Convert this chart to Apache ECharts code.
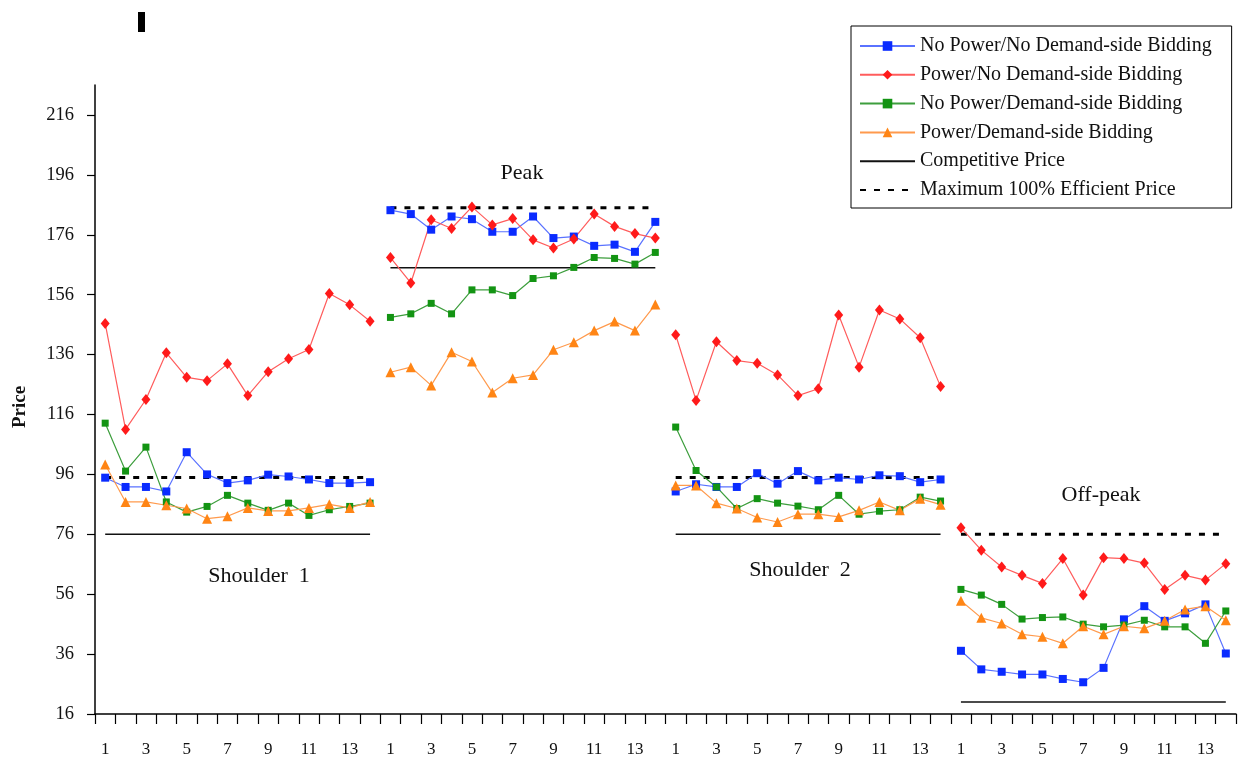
<!DOCTYPE html>
<html><head><meta charset="utf-8">
<script src="https://cdn.jsdelivr.net/npm/echarts@6/dist/echarts.min.js"></script>
<style>html,body{margin:0;padding:0;background:#fff}#c{width:1239px;height:758px}</style>
</head><body><div id="c"></div>
<script>
const periodLabels = ['1','2','3','4','5','6','7','8','9','10','11','12','13','14'];
const segmentNames = ['Shoulder  1','Peak','Shoulder  2','Off-peak'];
const noPowerNoDSB = [
  [94.9,91.8,91.8,90.3,103.4,96,93.1,94,95.9,95.3,94.3,93.1,93.1,93.4],
  [184.2,182.9,177.7,182.1,181.2,177,177,182.1,174.9,175.4,172.3,172.7,170.3,180.3],
  [90.3,92.7,91.8,91.8,96.4,92.9,97.1,94,94.9,94.3,95.7,95.4,93.4,94.3],
  [37.1,30.9,30.1,29.2,29.2,27.7,26.6,31.4,47.6,52,47.1,49.6,52.6,36.2]
];
const powerNoDSB = [
  [146.4,111,121,136.6,128.4,127.3,132.9,122.3,130.3,134.6,137.7,156.4,152.6,147.1],
  [168.4,159.9,181,178.1,185.3,179.3,181.4,174.3,171.6,174.6,182.9,178.8,176.4,174.9],
  [142.6,120.7,140.3,134,133.1,129.2,122.3,124.6,149.2,131.8,150.9,147.9,141.6,125.3],
  [78.2,70.7,65.1,62.3,59.6,67.9,55.7,68.2,67.9,66.4,57.6,62.3,60.7,66.2]
];
const noPowerDSB = [
  [113.1,97.1,105.1,86.8,83.4,85.3,89,86.4,84,86.4,82.3,84.2,85.3,86.4],
  [148.4,149.6,153.1,149.6,157.6,157.6,155.7,161.4,162.3,165.1,168.4,168.1,166.2,170.1],
  [111.8,97.3,91.8,84.6,87.9,86.4,85.4,84.2,89,82.7,83.7,84.2,88.4,87.1],
  [57.6,55.7,52.6,47.7,48.2,48.4,46,45.1,45.7,47.3,45.1,45.1,39.6,50.4]
];
const powerDSB = [
  [99.3,86.8,86.8,85.7,84.6,81.2,82,84.8,83.8,83.8,84.8,86,84.8,86.8],
  [130.1,131.8,125.7,136.8,133.7,123.3,128.1,129.2,137.6,140.1,144,147,144,152.7],
  [92.3,92.3,86.4,84.6,81.6,80.1,82.7,82.7,81.8,84,86.8,84,87.9,85.9],
  [53.8,48.1,46.2,42.6,41.8,39.6,45.3,42.6,45.3,44.6,47.1,50.9,52,47.3]
];
const competitivePrice = [76,165,76,20];
const maxEfficientPrice = [95,185,95,76];
const yTicks = [16,36,56,76,96,116,136,156,176,196,216];

const FONT = 'Liberation Serif';
const nSeg = segmentNames.length, nPer = periodLabels.length;
const categories = [];
for (let s = 0; s < nSeg; s++) periodLabels.forEach(p => categories.push(p));

function segData(seg, values) {
  const d = new Array(nSeg * nPer).fill(null);
  values.forEach((v, i) => { d[seg * nPer + i] = v; });
  return d;
}

const seriesDefs = [
  {name:'No Power/No Demand-side Bidding', data:noPowerNoDSB, line:'#5a72ff', mark:'#0a2bff', symbol:'rect', size:8},
  {name:'Power/No Demand-side Bidding', data:powerNoDSB, line:'#ff5c5c', mark:'#ff1a1a', symbol:'diamond', size:[9,11]},
  {name:'No Power/Demand-side Bidding', data:noPowerDSB, line:'#3d9e3d', mark:'#139413', symbol:'rect', size:7},
  {name:'Power/Demand-side Bidding', data:powerDSB, line:'#ff9a4d', mark:'#ff8515', symbol:'triangle', size:10}
];

const series = [];
for (let s = 0; s < nSeg; s++) {
  series.push({
    name:'Competitive Price', type:'line', symbol:'circle', symbolSize:0, showSymbol:false, z:1,
    data: segData(s, periodLabels.map(() => competitivePrice[s])),
    lineStyle:{color:'#111', width:1.5}, itemStyle:{color:'rgba(0,0,0,0)', borderWidth:0}, silent:true
  });
  series.push({
    name:'Maximum 100% Efficient Price', type:'line', symbol:'circle', symbolSize:0, showSymbol:false, z:1,
    data: segData(s, periodLabels.map(() => maxEfficientPrice[s])),
    lineStyle:{color:'#000', width:3, type:[6,8]}, itemStyle:{color:'rgba(0,0,0,0)', borderWidth:0}, silent:true
  });
}
seriesDefs.forEach(def => {
  for (let s = 0; s < nSeg; s++) {
    series.push({
      name:def.name, type:'line', z:3,
      data: segData(s, def.data[s]),
      symbol:def.symbol, symbolSize:def.size, showSymbol:true,
      lineStyle:{color:def.line, width:1.2},
      itemStyle:{color:def.mark}
    });
  }
});

const chart = echarts.init(document.getElementById('c'));
chart.setOption({
  animation:false,
  backgroundColor:'#fff',
  grid:{left:95, right:3, top:85, bottom:44, containLabel:false},
  legend:{
    orient:'vertical', left:851, top:26,
    data:[seriesDefs[0].name, seriesDefs[1].name, seriesDefs[2].name, seriesDefs[3].name, 'Competitive Price', 'Maximum 100% Efficient Price'],
    borderColor:'#000', borderWidth:1, padding:[10,20,8,8],
    itemWidth:55, itemHeight:12, itemGap:8.8,
    textStyle:{fontFamily:FONT, fontSize:20, color:'#111'}
  },
  xAxis:{
    type:'category', data:categories, boundaryGap:true,
    axisLine:{lineStyle:{color:'#000', width:1.5}},
    axisTick:{show:true, interval:0, length:10, lineStyle:{color:'#000', width:1.2}},
    axisLabel:{interval:1, margin:27, fontFamily:FONT, fontSize:17, color:'#111'},
    splitLine:{show:false}
  },
  yAxis:{
    type:'value', min:16, max:226,
    axisLine:{show:true, lineStyle:{color:'#000', width:1.5}},
    axisTick:{show:true, length:8, customValues:yTicks, lineStyle:{color:'#000', width:1.2}},
    axisLabel:{customValues:yTicks, margin:21, fontFamily:FONT, fontSize:18.5, color:'#111'},
    splitLine:{show:false}
  },
  graphic:[
    {type:'rect', shape:{x:138, y:12, width:7, height:20}, style:{fill:'#000'}},
    {type:'text', x:20, y:407, rotation:Math.PI/2, style:{text:'Price', fontFamily:FONT, fontSize:19, fontWeight:'bold', fill:'#111', align:'center', verticalAlign:'middle'}},
    {type:'text', x:522, y:173, style:{text:segmentNames[1], fontFamily:FONT, fontSize:22, fill:'#111', align:'center', verticalAlign:'middle'}},
    {type:'text', x:259, y:576, style:{text:segmentNames[0], fontFamily:FONT, fontSize:22, fill:'#111', align:'center', verticalAlign:'middle'}},
    {type:'text', x:800, y:570, style:{text:segmentNames[2], fontFamily:FONT, fontSize:22, fill:'#111', align:'center', verticalAlign:'middle'}},
    {type:'text', x:1101, y:495, style:{text:segmentNames[3], fontFamily:FONT, fontSize:22, fill:'#111', align:'center', verticalAlign:'middle'}}
  ],
  series:series
});
</script></body></html>
